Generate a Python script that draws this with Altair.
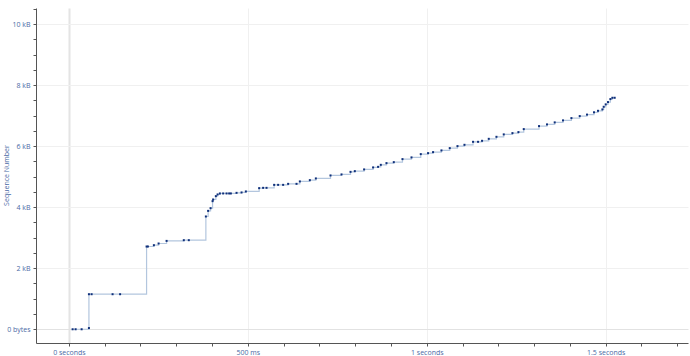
import altair as alt
import pandas as pd

# time in ms, sequence number in bytes
time_ms = [10.3, 18.7, 35.5, 55.9, 55.9, 63.4, 122, 143,
           217, 220.7, 237.4, 250.6, 272.9, 321, 335,
           382.7, 389, 395.8, 401.4, 403, 410.6, 415.4, 421.8, 431, 440.5, 447.8, 452.5,
           468.4, 482.4, 494.4, 531.6, 542.7, 552.2, 573.5, 584.6, 598.6, 612.6, 636,
           645.3, 673.2, 690, 731, 761.7, 786.9, 798.9, 824.9, 850, 864, 871.5, 887.4,
           907.8, 932.1, 957.3, 983.2, 1003.6, 1017.6, 1041, 1064.2, 1085.8, 1105.3,
           1129.3, 1143.3, 1154.5, 1173.2, 1194.7, 1215.1, 1239.4, 1256.1, 1271, 1313.7,
           1336, 1357.5, 1380.7, 1404.2, 1427.4, 1447.8, 1467.3, 1478.5, 1490.8, 1494.4,
           1500, 1506.4, 1513.1, 1518.7, 1525.1]
seq_bytes = [0, 0, 0, 40, 1148, 1148, 1148, 1148,
             2711, 2711, 2754, 2810, 2895, 2918, 2918,
             3695, 3879, 3967, 4197, 4252, 4361, 4416, 4449, 4449, 4449, 4449, 4449,
             4469, 4482, 4515, 4623, 4633, 4633, 4731, 4731, 4731, 4764, 4764,
             4843, 4885, 4941, 5039, 5072, 5157, 5180, 5236, 5302, 5321, 5387, 5443,
             5475, 5574, 5630, 5738, 5770, 5803, 5859, 5934, 6000, 6043,
             6141, 6141, 6174, 6239, 6305, 6384, 6426, 6459, 6557, 6656,
             6711, 6777, 6843, 6918, 6984, 7033, 7108, 7157, 7203, 7289,
             7367, 7443, 7541, 7584, 7584]

x_ticks = [round(-0.1 + 0.1 * i, 1) for i in range(19)]
y_ticks = [500 * i for i in range(-1, 22)]

df = pd.DataFrame({"t": [v / 1000 for v in time_ms], "seq": seq_bytes})

LABEL = "#4a6aa5"
FONT = "Open Sans"

MAJOR = "indexof(['0.0','0.5','1.0','1.5'], format(datum.value, '.1f')) >= 0"
ZERO = "format(datum.value, '.1f') == '0.0'"

x_enc = alt.X(
    "t:Q",
    title="Time",
    scale=alt.Scale(domain=[-0.092, 1.73], nice=False, zero=False),
    axis=alt.Axis(
        values=x_ticks,
        tickCount=100,
        labelExpr=f"!({MAJOR}) ? '' : ({ZERO} ? '0 seconds' : (format(datum.value, '.1f') == '0.5' ? '500 ms' : format(datum.value, '') + ' seconds'))",
        labelOverlap=False,
        labelFlush=False,
        gridColor={"condition": {"test": ZERO, "value": "#e4e4e4"}, "value": "#f0f0f0"},
        gridWidth={"condition": {"test": ZERO, "value": 2}, "value": 1},
        gridOpacity={"condition": {"test": MAJOR, "value": 1}, "value": 0},
        tickSize=3,
        labelPadding=2,
        titlePadding=1,
        titleX=386,
    ),
)
y_enc = alt.Y(
    "seq:Q",
    title="Sequence Number",
    scale=alt.Scale(domain=[-450, 10525], nice=False, zero=False),
    axis=alt.Axis(
        values=y_ticks,
        tickCount=100,
        labelExpr="datum.value % 2000 != 0 ? '' : (datum.value == 0 ? '0 bytes' : (datum.value / 1000) + ' kB')",
        labelOverlap=False,
        gridColor={"condition": {"test": "datum.value == 0", "value": "#e2e2e2"}, "value": "#f0f0f0"},
        gridOpacity={"condition": {"test": "datum.value % 2000 != 0", "value": 0}, "value": 1},
        tickSize=3,
        labelPadding=3,
        titleX=-27,
        titleY=167,
    ),
)

line = alt.Chart(df).mark_line(interpolate="step-after", color="#b3c6de", strokeWidth=1.2).encode(
    x=x_enc, y=y_enc
)
pts = alt.Chart(df).mark_point(shape="square", filled=True, size=4, color="#10307a", opacity=1).encode(
    x="t:Q", y="seq:Q"
)

chart = (
    alt.layer(line, pts)
    .properties(
        width=652,
        height=335,
        autosize=alt.AutoSizeParams(type="none"),
        padding={"left": 36, "top": 8, "right": 2, "bottom": 13},
        background="white",
    )
    .configure_view(stroke=None)
    .configure_axis(
        labelFont=FONT,
        titleFont=FONT,
        labelFontSize=7,
        titleFontSize=7,
        titleFontWeight="normal",
        labelColor=LABEL,
        titleColor=LABEL,
        domainColor="#555555",
        tickColor="#555555",
        domainWidth=1,
    )
)

chart.save("out.html", embed_options={"renderer": "svg", "actions": False})
